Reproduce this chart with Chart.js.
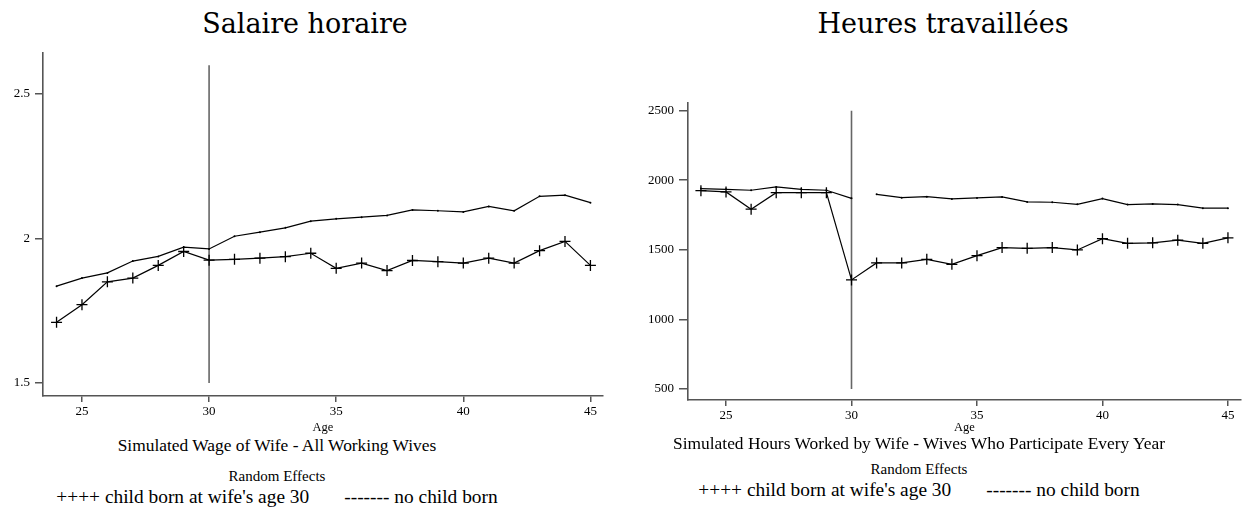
<!DOCTYPE html>
<html>
<head>
<meta charset="utf-8">
<script src="https://cdn.jsdelivr.net/npm/chart.js"></script>
<style>
  body { margin: 0; background: #fff; width: 1250px; height: 508px; position: relative; overflow: hidden; font-family: "Liberation Serif", serif; color: #000; }
  canvas { position: absolute; top: 0; }
  .txt { position: absolute; white-space: nowrap; transform: translateX(-50%); }
  .title { font-family: "DejaVu Serif", serif; font-size: 27px; line-height: 27px; }
  .sub { font-size: 17.4px; line-height: 17.4px; }
  .re { font-size: 15px; line-height: 15px; }
  .leg { font-size: 19.4px; line-height: 19.4px; }
  .leg span + span { margin-left: 35px; }
</style>
</head>
<body>
<div class="txt title" style="left:305px; top:10px;">Salaire horaire</div>
<div class="txt title" style="left:943px; top:10px;">Heures travaillées</div>

<canvas id="wageChart" width="620" height="435" style="left:0"></canvas>
<canvas id="hoursChart" width="630" height="435" style="left:620px"></canvas>

<div class="txt sub" style="left:277px; top:437px;">Simulated Wage of Wife - All Working Wives</div>
<div class="txt re" style="left:277px; top:469px;">Random Effects</div>
<div class="txt leg" style="left:277px; top:487px;"><span>++++ child born at wife's age 30</span><span>------- no child born</span></div>

<div class="txt sub" style="left:919px; top:435px;">Simulated Hours Worked by Wife - Wives Who Participate Every Year</div>
<div class="txt re" style="left:919px; top:462px;">Random Effects</div>
<div class="txt leg" style="left:919px; top:480px;"><span>++++ child born at wife's age 30</span><span>------- no child born</span></div>

<script>
const ages = [24, 25, 26, 27, 28, 29, 30, 31, 32, 33, 34, 35, 36, 37, 38, 39, 40, 41, 42, 43, 44, 45];
const ageTicks = [25, 30, 35, 40, 45];
const birthAge = 30;

const wageChild = [1.710, 1.771, 1.850, 1.863, 1.907, 1.955, 1.925, 1.928, 1.932, 1.937, 1.949, 1.897,
  1.915, 1.889, 1.924, 1.920, 1.915, 1.932, 1.915, 1.958, 1.990, 1.907];
const wageNoChild = [1.835, 1.863, 1.881, 1.922, 1.938, 1.970, 1.964, 2.008, 2.022, 2.037, 2.060, 2.068,
  2.074, 2.080, 2.099, 2.096, 2.092, 2.111, 2.096, 2.146, 2.150, 2.124];
const wageTicks = [1.5, 2, 2.5];
const wageBirthLine = [1.5, 2.6];

const hoursChild = [1925, 1916, 1792, 1911, 1911, 1911, 1284, 1406, 1406, 1432, 1396, 1458,
  1516, 1511, 1516, 1499, 1580, 1547, 1550, 1569, 1547, 1586];
const hoursNoChild = [1940, 1935, 1928, 1952, 1935, 1928, 1870, 1899, 1875, 1882, 1866, 1873,
  1880, 1844, 1842, 1827, 1868, 1825, 1830, 1825, 1799, 1799];
const hoursTicks = [500, 1000, 1500, 2000, 2500];
const hoursBirthLine = [500, 2500];
// the no-child hours series is not joined between these two ages
const hoursBreak = [30, 31];

const serif = 'Liberation Serif';
const axisColor = '#555';

function toPoints(ys) {
  return ys.map((y, i) => ({ x: ages[i], y: y }));
}

function makePanel(id, cfg) {
  const skip = cfg.breakAt;
  return new Chart(document.getElementById(id), {
    type: 'line',
    data: {
      datasets: [
        {
          data: toPoints(cfg.noChild),
          borderColor: '#000',
          borderWidth: 1.2,
          pointRadius: 1,
          pointBackgroundColor: '#000',
          pointBorderWidth: 0,
          tension: 0,
          segment: {
            borderColor: ctx => (skip && ctx.p0.parsed.x === skip[0] && ctx.p1.parsed.x === skip[1]) ? 'rgba(0,0,0,0)' : '#000'
          }
        },
        {
          data: toPoints(cfg.child),
          borderColor: '#000',
          borderWidth: 1.2,
          pointStyle: 'cross',
          pointRadius: 5.5,
          pointBorderWidth: 1.3,
          pointBorderColor: '#000',
          tension: 0
        },
        {
          data: cfg.birthLine.map(y => ({ x: birthAge, y: y })),
          borderColor: '#666',
          borderWidth: 1.6,
          pointRadius: 0
        }
      ]
    },
    options: {
      responsive: false,
      animation: false,
      layout: { padding: { top: cfg.top, right: cfg.right, left: 0, bottom: 0 } },
      plugins: { legend: { display: false }, tooltip: { enabled: false } },
      scales: {
        x: {
          type: 'linear',
          min: cfg.xMin,
          max: cfg.xMax,
          afterBuildTicks: s => { s.ticks = ageTicks.map(v => ({ value: v })); },
          afterFit: s => { s.height = cfg.xHeight; },
          grid: { drawOnChartArea: false, tickLength: 6, color: axisColor, lineWidth: 1.5 },
          border: { color: axisColor, width: 1.6 },
          ticks: { font: { family: serif, size: 13 }, color: '#000', padding: 2, maxRotation: 0, autoSkip: false },
          title: { display: true, text: 'Age', font: { family: serif, size: 12.5 }, color: '#000', padding: 0 }
        },
        y: {
          min: cfg.yMin,
          max: cfg.yMax,
          afterBuildTicks: s => { s.ticks = cfg.yTicks.map(v => ({ value: v })); },
          afterFit: s => { s.width = cfg.yWidth; },
          grid: { drawOnChartArea: false, tickLength: cfg.yTick, color: axisColor, lineWidth: 1.5 },
          border: { color: axisColor, width: 1.6 },
          ticks: { font: { family: serif, size: 13 }, color: '#000', padding: 5, callback: v => String(v) }
        }
      }
    }
  });
}

makePanel('wageChart', {
  child: wageChild, noChild: wageNoChild, birthLine: wageBirthLine, yTicks: wageTicks,
  yMin: 1.455, yMax: 2.642, xMin: 23.467, xMax: 45.495,
  top: 53, right: 17, xHeight: 39, yWidth: 43, yTick: 8
});

makePanel('hoursChart', {
  child: hoursChild, noChild: hoursNoChild, birthLine: hoursBirthLine, yTicks: hoursTicks,
  yMin: 421, yMax: 2555, xMin: 23.485, xMax: 45.52,
  top: 103, right: 9, xHeight: 35, yWidth: 68, yTick: 9, breakAt: hoursBreak
});
</script>
</body>
</html>
